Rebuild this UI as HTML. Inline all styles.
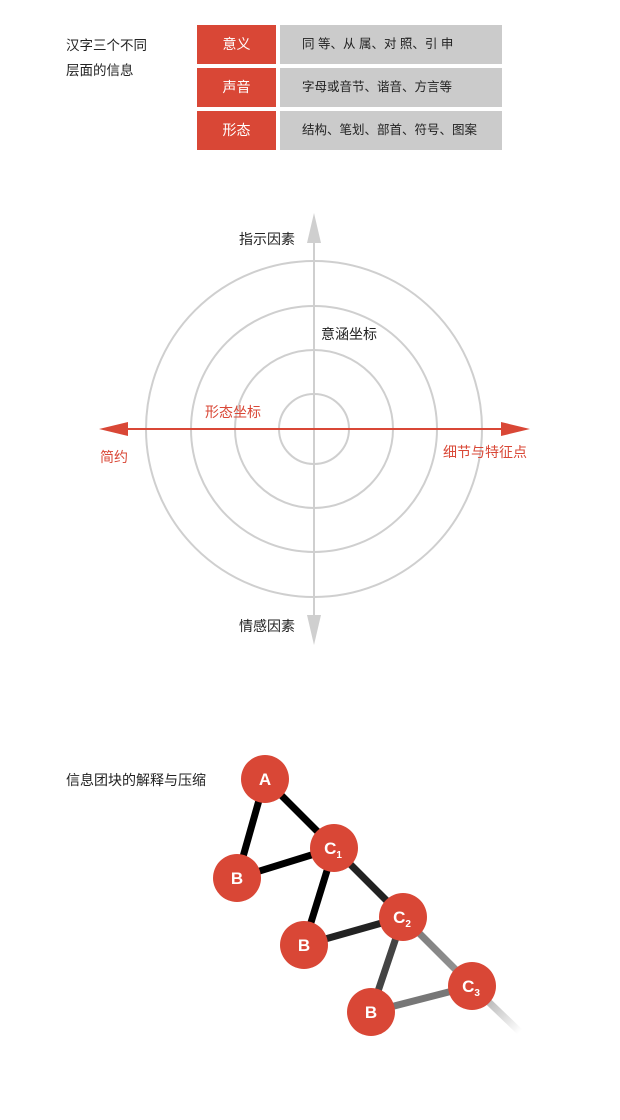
<!DOCTYPE html>
<html><head><meta charset="utf-8"><style>
html,body{margin:0;padding:0;background:#fff;}
body{width:620px;height:1120px;position:relative;overflow:hidden;font-family:"Liberation Sans","Noto Sans CJK SC",sans-serif;font-size:14px;color:#222;}
.a{position:absolute;white-space:nowrap;}
.r{position:absolute;background:#d94736;color:#fff;width:79px;height:39px;line-height:39px;text-align:center;left:197px;}
.g{position:absolute;background:#cbcbcb;color:#222;width:222px;height:39px;line-height:39px;left:280px;padding-left:22px;box-sizing:border-box;font-size:12.5px;}
</style></head><body>
<div class="a" style="left:66px;top:33px;line-height:25px;font-size:13.5px;">汉字三个不同<br>层面的信息</div>
<div class="r" style="top:25px;">意义</div><div class="g" style="top:25px;">同 等、从 属、对 照、引 申</div>
<div class="r" style="top:68px;">声音</div><div class="g" style="top:68px;">字母或音节、谐音、方言等</div>
<div class="r" style="top:111px;">形态</div><div class="g" style="top:111px;">结构、笔划、部首、符号、图案</div>

<svg class="a" style="left:0;top:0" width="620" height="1120">
<g fill="none" stroke="#cfcfcf" stroke-width="2">
<circle cx="314" cy="429" r="35"/><circle cx="314" cy="429" r="79"/><circle cx="314" cy="429" r="123"/><circle cx="314" cy="429" r="168"/>
<line x1="314" y1="240" x2="314" y2="618"/></g>
<polygon points="314,213 307,243 321,243" fill="#cfcfcf"/>
<polygon points="314,645 307,615 321,615" fill="#cfcfcf"/>
<line x1="125" y1="429" x2="505" y2="429" stroke="#d94736" stroke-width="2"/>
<polygon points="99,429 128,422 128,436" fill="#d94736"/>
<polygon points="530,429 501,422 501,436" fill="#d94736"/>
<defs><linearGradient id="t" x1="472" y1="986" x2="520" y2="1032" gradientUnits="userSpaceOnUse"><stop offset="0" stop-color="#999"/><stop offset="1" stop-color="#fff"/></linearGradient>
<linearGradient id="c23" x1="403" y1="917" x2="472" y2="986" gradientUnits="userSpaceOnUse"><stop offset="0" stop-color="#777"/><stop offset="1" stop-color="#999"/></linearGradient></defs>
<g stroke-width="7" stroke-linecap="butt">
<line x1="265" y1="779" x2="237" y2="878" stroke="#000"/>
<line x1="265" y1="779" x2="334" y2="848" stroke="#000"/>
<line x1="237" y1="878" x2="334" y2="848" stroke="#000"/>
<line x1="334" y1="848" x2="304" y2="945" stroke="#000"/>
<line x1="334" y1="848" x2="403" y2="917" stroke="#222"/>
<line x1="304" y1="945" x2="403" y2="917" stroke="#222"/>
<line x1="403" y1="917" x2="371" y2="1012" stroke="#444"/>
<line x1="403" y1="917" x2="472" y2="986" stroke="url(#c23)"/>
<line x1="371" y1="1012" x2="472" y2="986" stroke="#777"/>
<line x1="472" y1="986" x2="520" y2="1032" stroke="url(#t)"/>
</g>
<g fill="#d94736"><circle cx="265" cy="779" r="24"/><circle cx="237" cy="878" r="24"/><circle cx="334" cy="848" r="24"/><circle cx="304" cy="945" r="24"/><circle cx="403" cy="917" r="24"/><circle cx="371" cy="1012" r="24"/><circle cx="472" cy="986" r="24"/></g>
<g fill="#fff" font-family="Liberation Sans,sans-serif" font-weight="bold" font-size="17" text-anchor="middle">
<text x="265" y="785">A</text><text x="237" y="884">B</text><text x="304" y="951">B</text><text x="371" y="1018">B</text>
<text x="333" y="854">C<tspan font-size="10" dy="4">1</tspan></text>
<text x="402" y="923">C<tspan font-size="10" dy="4">2</tspan></text>
<text x="471" y="992">C<tspan font-size="10" dy="4">3</tspan></text>
</g>
</svg>
<div class="a" style="left:239px;top:229px;">指示因素</div>
<div class="a" style="left:321px;top:324px;">意涵坐标</div>
<div class="a" style="left:205px;top:402px;color:#d94736;">形态坐标</div>
<div class="a" style="left:100px;top:447px;color:#d94736;">简约</div>
<div class="a" style="left:443px;top:442px;color:#d94736;">细节与特征点</div>
<div class="a" style="left:239px;top:616px;">情感因素</div>
<div class="a" style="left:66px;top:770px;">信息团块的解释与压缩</div>
</body></html>
